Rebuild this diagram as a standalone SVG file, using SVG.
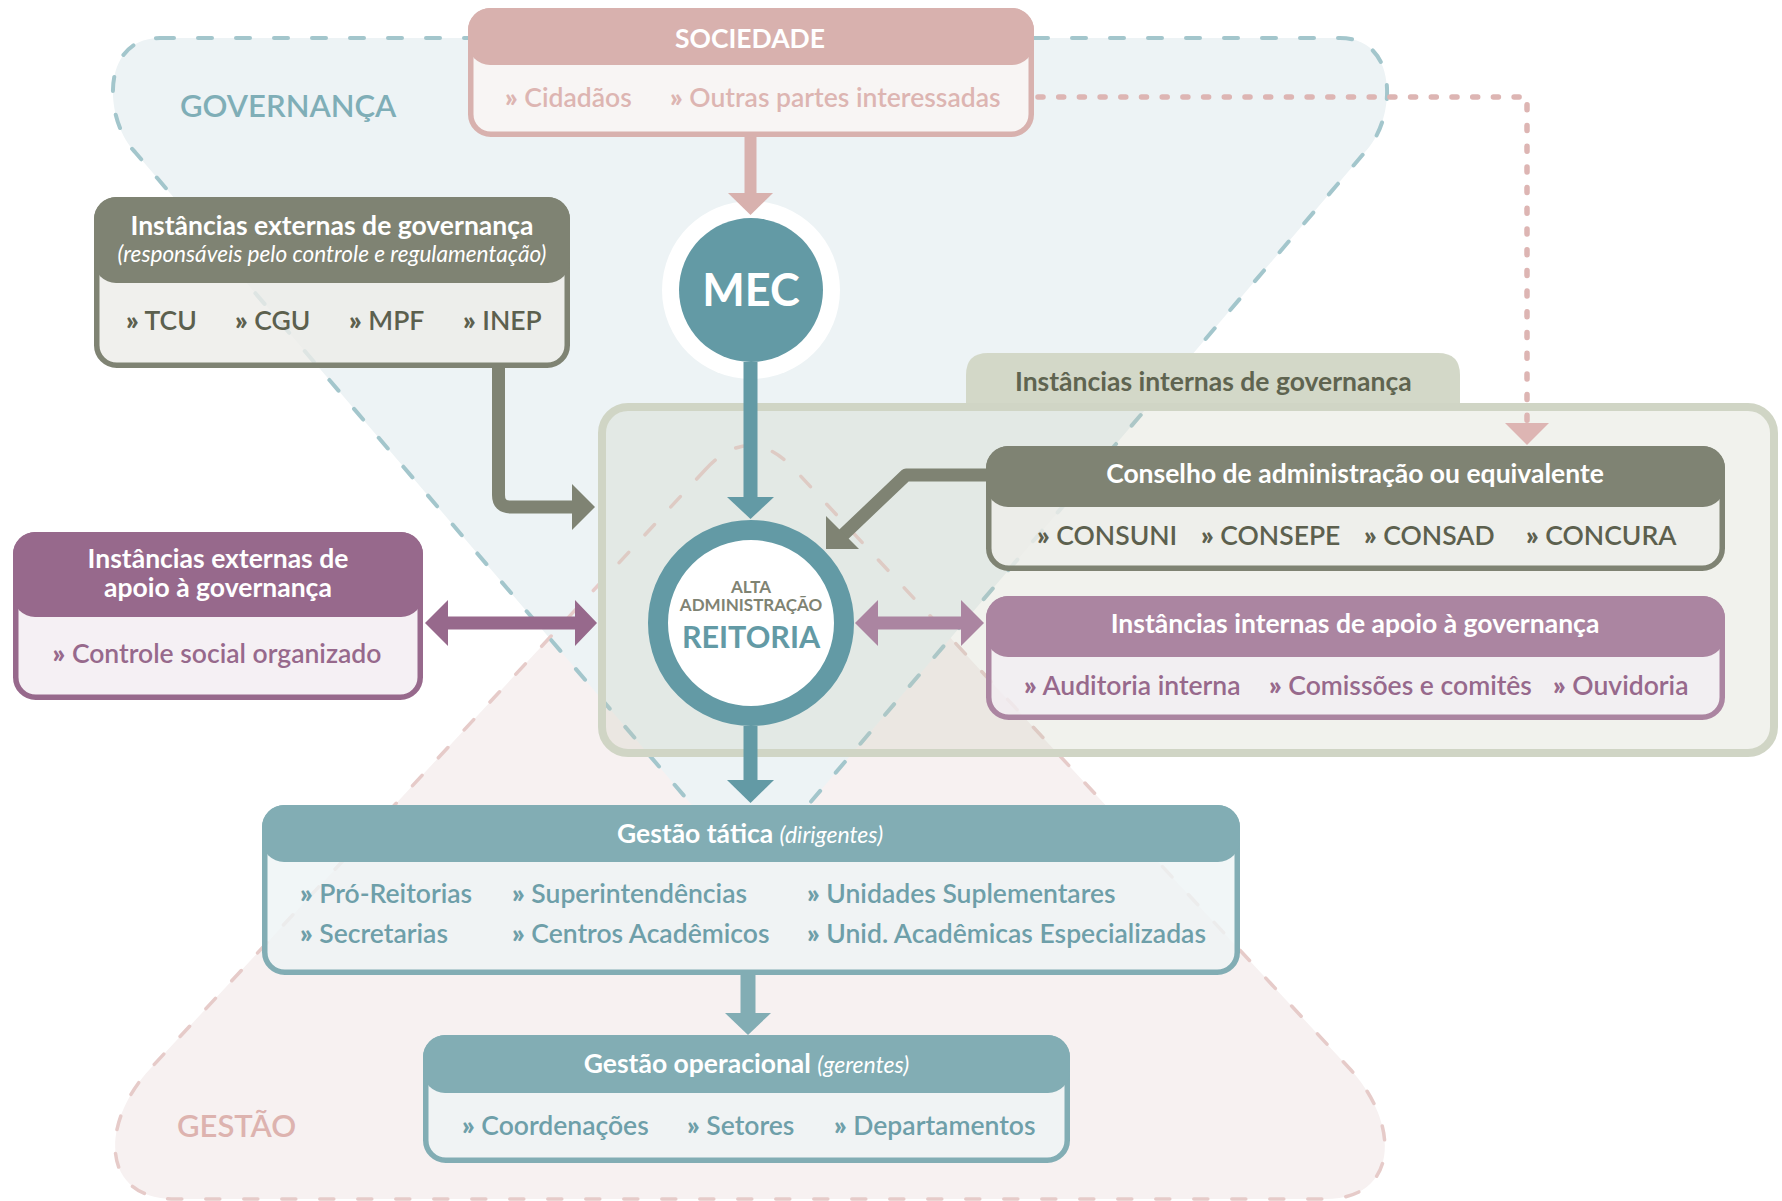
<svg xmlns="http://www.w3.org/2000/svg" width="1782" height="1201" viewBox="0 0 1782 1201">
<style>
text{font-family:Lato,"Open Sans","Liberation Sans",sans-serif}
.t{font-size:26.5px;font-weight:700;fill:#fff;text-anchor:middle}
.it{font-style:italic;font-weight:400}
.sub{font-size:22.6px}
.i{font-size:26.5px;font-weight:600}
.b{font-weight:800}
.g{fill:#5C604E}.p{fill:#97698C}.pk{fill:#DDB5B2}.tl{fill:#6E9FA9}
.lab{font-size:31px;font-weight:600}
.body{stroke-width:5.5;fill-opacity:.8}
</style>
<defs/>
<g id="regions">
<path d="M705 470Q750 421 795 470L1350 1069C1400 1123 1400 1199 1325 1199L175 1199C100 1199 100 1123 150 1069Z" fill="#F7F1F1"/>
<path d="M160 38L1340 38C1400 38 1396 120 1365 152L780 838Q750 874 720 838L135 152C104 120 100 38 160 38Z" fill="#EDF3F5"/>
<path d="M705 470Q750 421 795 470L1350 1069C1400 1123 1400 1199 1325 1199L175 1199C100 1199 100 1123 150 1069Z" fill="none" stroke="#E6CBC9" stroke-width="3.5" stroke-dasharray="14 24" stroke-linecap="round"/>
<path d="M160 38L1340 38C1400 38 1396 120 1365 152L780 838Q750 874 720 838L135 152C104 120 100 38 160 38Z" fill="none" stroke="#A3C6CC" stroke-width="4" stroke-dasharray="14 24" stroke-linecap="round"/>
<text class="lab" x="180" y="117" fill="#7FAEB7">GOVERNANÇA</text>
<text class="lab" x="177" y="1137" fill="#DDB3AF">GESTÃO</text>
</g>
<g id="internas">
<path d="M966 411V375Q966 353 988 353H1438Q1460 353 1460 375V411Z" fill="#D3D8C8"/>
<rect x="602" y="407" width="1172" height="346" rx="26" fill="#C8CDB9" fill-opacity=".25" stroke="#D0D5C5" stroke-width="8"/>
<text x="1015" y="391" font-size="26.5" font-weight="700" fill="#5F6450">Instâncias internas de governança</text>
</g>
<g id="sociedade">
<rect class="body" x="470.75" y="10.75" width="560.5" height="123.5" rx="20" fill="#FAF5F4" stroke="#D8B1AE"/>
<rect x="468" y="8" width="566" height="57" rx="22" fill="#D8B1AE"/>
<text class="t" x="750" y="48">SOCIEDADE</text>
<text class="i pk" x="505" y="107"><tspan class="b">»</tspan> Cidadãos</text>
<text class="i pk" x="670" y="107"><tspan class="b">»</tspan> Outras partes interessadas</text>
</g>
<g id="ext-gov">
<rect class="body" x="96.75" y="199.75" width="470.5" height="165.5" rx="20" fill="#ECECE9" stroke="#7F8373"/>
<rect x="94" y="197" width="476" height="86" rx="22" fill="#7F8373"/>
<text class="t" x="332" y="235">Instâncias externas de governança</text>
<text class="t it sub" x="332" y="262">(responsáveis pelo controle e regulamentação)</text>
<text class="i g" x="126" y="330"><tspan class="b">»</tspan> TCU</text>
<text class="i g" x="235" y="330"><tspan class="b">»</tspan> CGU</text>
<text class="i g" x="349" y="330"><tspan class="b">»</tspan> MPF</text>
<text class="i g" x="463" y="330"><tspan class="b">»</tspan> INEP</text>
</g>
<g id="ext-apoio">
<rect class="body" x="15.75" y="534.75" width="404.5" height="162.5" rx="20" fill="#F2ECF1" stroke="#97698C"/>
<rect x="13" y="532" width="410" height="85" rx="22" fill="#97698C"/>
<text class="t" x="218" y="568">Instâncias externas de</text>
<text class="t" x="218" y="597">apoio à governança</text>
<text class="i p" x="217" y="663" text-anchor="middle"><tspan class="b">»</tspan> Controle social organizado</text>
</g>
<g id="conselho">
<rect class="body" x="988.75" y="448.75" width="733.5" height="119.5" rx="20" fill="#EDEDEA" stroke="#7F8373"/>
<rect x="986" y="446" width="739" height="61" rx="22" fill="#7F8373"/>
<text class="t" x="1355" y="483">Conselho de administração ou equivalente</text>
<text class="i g" x="1037" y="545"><tspan class="b">»</tspan> CONSUNI</text>
<text class="i g" x="1201" y="545"><tspan class="b">»</tspan> CONSEPE</text>
<text class="i g" x="1364" y="545"><tspan class="b">»</tspan> CONSAD</text>
<text class="i g" x="1526" y="545"><tspan class="b">»</tspan> CONCURA</text>
</g>
<g id="int-apoio">
<rect class="body" x="988.75" y="598.75" width="733.5" height="118.5" rx="20" fill="#F3EDF2" stroke="#AB85A1"/>
<rect x="986" y="596" width="739" height="61" rx="22" fill="#AB85A1"/>
<text class="t" x="1355" y="633">Instâncias internas de apoio à governança</text>
<text class="i p" x="1024" y="695"><tspan class="b">»</tspan> Auditoria interna</text>
<text class="i p" x="1269" y="695"><tspan class="b">»</tspan> Comissões e comitês</text>
<text class="i p" x="1553" y="695"><tspan class="b">»</tspan> Ouvidoria</text>
</g>
<g id="gestao-tatica">
<rect class="body" x="264.75" y="807.75" width="972.5" height="164.5" rx="20" fill="#EEF4F5" stroke="#82ADB4"/>
<rect x="262" y="805" width="978" height="57" rx="22" fill="#82ADB4"/>
<text class="t" x="750" y="843">Gestão tática <tspan class="it" font-size="23">(dirigentes)</tspan></text>
<text class="i tl" x="300" y="903"><tspan class="b">»</tspan> Pró-Reitorias</text>
<text class="i tl" x="512" y="903"><tspan class="b">»</tspan> Superintendências</text>
<text class="i tl" x="807" y="903"><tspan class="b">»</tspan> Unidades Suplementares</text>
<text class="i tl" x="300" y="943"><tspan class="b">»</tspan> Secretarias</text>
<text class="i tl" x="512" y="943"><tspan class="b">»</tspan> Centros Acadêmicos</text>
<text class="i tl" x="807" y="943"><tspan class="b">»</tspan> Unid. Acadêmicas Especializadas</text>
</g>
<g id="gestao-operacional">
<rect class="body" x="425.75" y="1037.75" width="641.5" height="122.5" rx="20" fill="#EEF4F5" stroke="#82ADB4"/>
<rect x="423" y="1035" width="647" height="58" rx="22" fill="#82ADB4"/>
<text class="t" x="746.5" y="1073">Gestão operacional <tspan class="it" font-size="23">(gerentes)</tspan></text>
<text class="i tl" x="462" y="1135"><tspan class="b">»</tspan> Coordenações</text>
<text class="i tl" x="687" y="1135"><tspan class="b">»</tspan> Setores</text>
<text class="i tl" x="834" y="1135"><tspan class="b">»</tspan> Departamentos</text>
</g>
<g id="mec">
<circle cx="751" cy="290" r="89" fill="#fff"/>
<circle cx="751" cy="290" r="72" fill="#639AA5"/>
<text x="751" y="306" font-size="45" font-weight="700" fill="#fff" text-anchor="middle">MEC</text>
</g>
<g id="reitoria">
<circle cx="751" cy="623" r="93" fill="#fff" stroke="#639AA5" stroke-width="20"/>
<text x="751" y="593" font-size="17" font-weight="700" fill="#7F8373" text-anchor="middle">ALTA</text>
<text x="751" y="611" font-size="17" font-weight="700" fill="#7F8373" text-anchor="middle">ADMINISTRAÇÃO</text>
<text x="751" y="648" font-size="30.5" font-weight="700" fill="#639AA5" text-anchor="middle">REITORIA</text>
</g>
<g id="connectors">
<path d="M750.5 137V195" stroke="#D8B1AE" stroke-width="12"/>
<path d="M728 193H773L750.5 215Z" fill="#D8B1AE"/>
<path d="M750.5 362V498" stroke="#639AA5" stroke-width="14"/>
<path d="M727 497H774L750.5 519Z" fill="#639AA5"/>
<path d="M750.5 726V781" stroke="#639AA5" stroke-width="14"/>
<path d="M727 780H774L750.5 803Z" fill="#639AA5"/>
<path d="M748 975V1014" stroke="#82ADB4" stroke-width="15"/>
<path d="M725 1013H771L748 1035Z" fill="#82ADB4"/>
<path d="M498.5 368V495Q498.5 507 510.5 507H573" fill="none" stroke="#7F8373" stroke-width="13"/>
<path d="M572 484V530L595 507Z" fill="#7F8373"/>
<path d="M447 623H576" stroke="#97698C" stroke-width="13"/>
<path d="M448 600V646L425 623ZM575 600V646L597 623Z" fill="#97698C"/>
<path d="M877 623H962" stroke="#AB85A1" stroke-width="13"/>
<path d="M878 600V646L855 623ZM961 600V646L984 623Z" fill="#AB85A1"/>
<path d="M989 475H906L843 535" fill="none" stroke="#7F8373" stroke-width="13" stroke-linejoin="round"/>
<path d="M826 549L826 516L859 549Z" fill="#7F8373"/>
<path d="M1038 97H1527V421" fill="none" stroke="#DDB5B3" stroke-width="5.5" stroke-dasharray="5 15.7" stroke-linecap="round"/>
<path d="M1505 423H1549L1527 445Z" fill="#DDB5B3"/>
</g>
</svg>
